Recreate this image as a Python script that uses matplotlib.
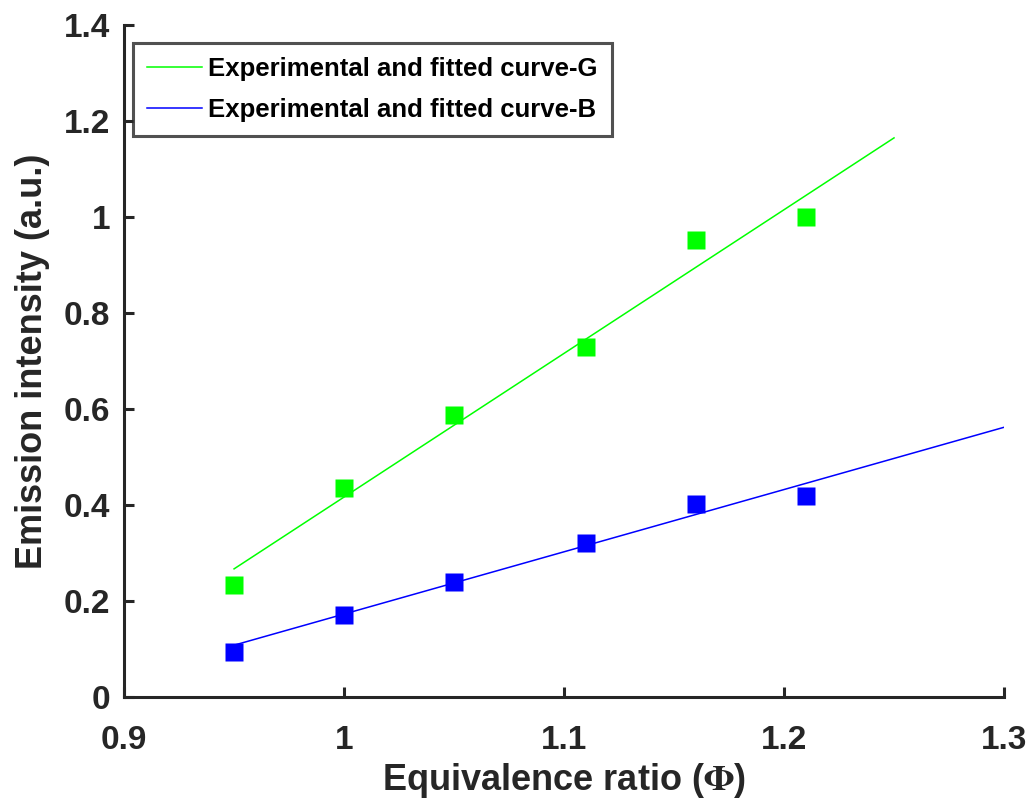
import numpy as np
import matplotlib
matplotlib.use("Agg")
import matplotlib.pyplot as plt

plt.rcParams['font.family'] = ['Liberation Sans', 'DejaVu Sans']
plt.rcParams['font.weight'] = 'bold'
plt.rcParams['mathtext.fontset'] = 'stix'

# measured points
phi = [0.95, 1.00, 1.05, 1.11, 1.16, 1.21]
green_pts = [0.233, 0.435, 0.588, 0.729, 0.952, 1.000]
blue_pts = [0.094, 0.171, 0.240, 0.321, 0.402, 0.419]

# fitted lines (end points)
green_fit_x = [0.95, 1.25]
green_fit_y = [0.267, 1.165]
blue_fit_x = [0.95, 1.30]
blue_fit_y = [0.108, 0.562]

axis_col = '#262626'

fig = plt.figure(figsize=(10.34, 8.10), dpi=100)
ax = fig.add_axes([0.12, 0.1395, 0.851, 0.8295])

ax.plot(green_fit_x, green_fit_y, color=(0, 1, 0), lw=1.1, label='Experimental and fitted curve-G')
ax.plot(blue_fit_x, blue_fit_y, color=(0, 0, 1), lw=1.1, label='Experimental and fitted curve-B')
ax.plot(phi, green_pts, 's', color=(0, 1, 0), ms=12.5, mec='none')
ax.plot(phi, blue_pts, 's', color=(0, 0, 1), ms=12.5, mec='none')

ax.set_xlim(0.9, 1.3)
ax.set_ylim(0, 1.4)
ax.set_xticks([0.9, 1.0, 1.1, 1.2, 1.3])
ax.set_xticklabels(['0.9', '1', '1.1', '1.2', '1.3'])
ax.set_yticks([0, 0.2, 0.4, 0.6, 0.8, 1.0, 1.2, 1.4])
ax.set_yticklabels(['0', '0.2', '0.4', '0.6', '0.8', '1', '1.2', '1.4'])

for s in ['top', 'right']:
    ax.spines[s].set_visible(False)
for s in ['left', 'bottom']:
    ax.spines[s].set_linewidth(2.2)
    ax.spines[s].set_color(axis_col)

ax.tick_params(direction='in', length=7, width=2.2, color=axis_col,
               labelsize=24, labelcolor=axis_col)
ax.tick_params(axis='x', pad=20)
ax.tick_params(axis='y', pad=10)

ax.set_xlabel(r'Equivalence ratio ($\Phi$)', fontsize=26, fontweight='bold', color=axis_col, labelpad=4)
ax.set_ylabel('Emission intensity (a.u.)', fontsize=26, fontweight='bold', color=axis_col, labelpad=10)

leg = ax.legend(loc='upper left', bbox_to_anchor=(0.0102, 0.973), fontsize=18.5,
                frameon=True, fancybox=False, handlelength=2.15, handletextpad=0.22,
                borderpad=0.55, labelspacing=0.65, borderaxespad=0)
leg.get_frame().set_edgecolor(axis_col)
leg.get_frame().set_linewidth(2.2)
for t in leg.get_texts():
    t.set_color('black')

fig.savefig('out.png', dpi=100)
